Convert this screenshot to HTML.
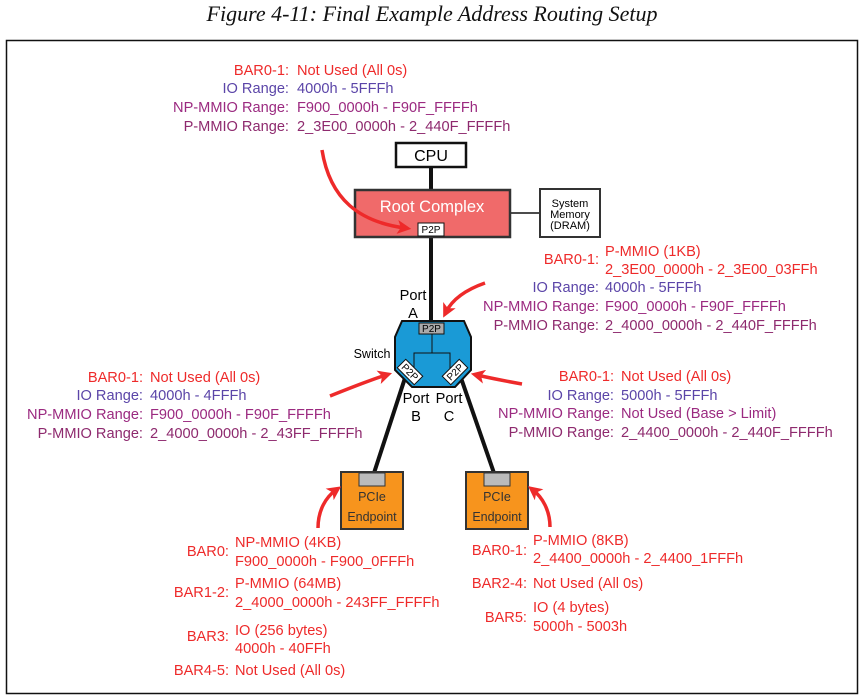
<!DOCTYPE html>
<html><head><meta charset="utf-8"><style>
html,body{margin:0;padding:0;background:#fff;}
svg{display:block;}
text{font-family:"Liberation Sans",sans-serif;font-size:14.6px;}
.r{fill:#ee2a2a}.io{fill:#5b45a8}.np{fill:#9b2a80}.pm{fill:#8e2a6e}
.e{text-anchor:end}
.t{font-family:"Liberation Serif",serif;font-style:italic;font-size:22px;fill:#111}
</style></head><body>
<svg width="864" height="698" viewBox="0 0 864 698">
<defs><marker id="ah" markerWidth="4" markerHeight="4" refX="2.2" refY="2" orient="auto" markerUnits="strokeWidth"><path d="M0,0 L4,2 L0,4 L1,2 Z" fill="#ee2a2a"/></marker></defs>
<text x="432" y="21" text-anchor="middle" class="t">Figure 4-11: Final Example Address Routing Setup</text>
<rect x="6.5" y="40.5" width="851" height="653" fill="none" stroke="#111" stroke-width="1.5"/>

<line x1="431" y1="167" x2="431" y2="190" stroke="#111" stroke-width="4"/>
<line x1="510" y1="213" x2="540" y2="213" stroke="#111" stroke-width="1.5"/>
<line x1="431" y1="237" x2="431" y2="323" stroke="#111" stroke-width="4"/>
<line x1="405" y1="378" x2="374" y2="473" stroke="#111" stroke-width="4"/>
<line x1="461" y1="378" x2="494" y2="473" stroke="#111" stroke-width="4"/>

<rect x="396" y="143" width="70" height="24" fill="#fff" stroke="#111" stroke-width="2.5"/>
<text x="431" y="161" text-anchor="middle" style="font-size:16px">CPU</text>
<rect x="355" y="190" width="155" height="47" fill="#f06a6a" stroke="#333" stroke-width="2.5"/>
<text x="432" y="212" text-anchor="middle" style="font-size:16.5px;fill:#fff">Root Complex</text>
<rect x="418" y="223" width="26" height="13" fill="#fff" stroke="#111" stroke-width="1"/>
<text x="431" y="233" text-anchor="middle" style="font-size:10px">P2P</text>
<rect x="540" y="189" width="60" height="48" fill="#fff" stroke="#333" stroke-width="2"/>
<text x="570" y="207" text-anchor="middle" style="font-size:11px">System</text>
<text x="570" y="218" text-anchor="middle" style="font-size:11px">Memory</text>
<text x="570" y="229" text-anchor="middle" style="font-size:11px">(DRAM)</text>

<polygon points="402,321 464,321 471,337 471,370 455,387 412,387 395,370 395,337" fill="#1a9ad6" stroke="#111" stroke-width="2"/>
<rect x="419" y="323" width="25" height="11" fill="#aaa" stroke="#111" stroke-width="1"/>
<text x="431.5" y="332" text-anchor="middle" style="font-size:10px">P2P</text>
<line x1="432" y1="334" x2="432" y2="353" stroke="#111" stroke-width="1"/>
<polyline points="414,376 414,353 450,353 450,376" fill="none" stroke="#111" stroke-width="1"/>
<g transform="translate(410,372) rotate(45)"><rect x="-12" y="-6" width="24" height="12" fill="#fff" stroke="#111" stroke-width="1"/><text x="0" y="3.5" text-anchor="middle" style="font-size:10px">P2P</text></g>
<g transform="translate(455,372) rotate(-45)"><rect x="-12" y="-6" width="24" height="12" fill="#fff" stroke="#111" stroke-width="1"/><text x="0" y="3.5" text-anchor="middle" style="font-size:10px">P2P</text></g>
<text x="372" y="358" text-anchor="middle" style="font-size:12.5px">Switch</text>
<text x="413" y="300" text-anchor="middle">Port</text>
<text x="413" y="318" text-anchor="middle">A</text>
<text x="416" y="403" text-anchor="middle">Port</text>
<text x="416" y="421" text-anchor="middle">B</text>
<text x="449" y="403" text-anchor="middle">Port</text>
<text x="449" y="421" text-anchor="middle">C</text>

<rect x="341" y="472" width="62" height="57" fill="#f7941d" stroke="#333" stroke-width="2"/>
<rect x="359" y="473" width="26" height="13" fill="#bbb" stroke="#333" stroke-width="1"/>
<text x="372" y="501" text-anchor="middle" style="font-size:12.5px;fill:#333">PCIe</text>
<text x="372" y="521" text-anchor="middle" style="font-size:12.5px;fill:#333">Endpoint</text>
<rect x="466" y="472" width="62" height="57" fill="#f7941d" stroke="#333" stroke-width="2"/>
<rect x="484" y="473" width="26" height="13" fill="#bbb" stroke="#333" stroke-width="1"/>
<text x="497" y="501" text-anchor="middle" style="font-size:12.5px;fill:#333">PCIe</text>
<text x="497" y="521" text-anchor="middle" style="font-size:12.5px;fill:#333">Endpoint</text>

<g fill="none" stroke="#ee2a2a" stroke-width="3.5" marker-end="url(#ah)">
<path d="M322,150 C330,200 360,222 405,228"/>
<path d="M485,283 C465,290 452,300 446,312"/>
<path d="M330,396 C350,388 370,380 386,375"/>
<path d="M522,384 C505,381 490,378 477,375"/>
<path d="M318,528 C318,510 326,497 336,490"/>
<path d="M550,527 C550,510 542,497 533,490"/>
</g>

<text x="289" y="75" class="r e">BAR0-1:</text><text x="297" y="75" class="r">Not Used (All 0s)</text>
<text x="289" y="93" class="io e">IO Range:</text><text x="297" y="93" class="io">4000h - 5FFFh</text>
<text x="289" y="112" class="np e">NP-MMIO Range:</text><text x="297" y="112" class="np">F900_0000h - F90F_FFFFh</text>
<text x="289" y="131" class="pm e">P-MMIO Range:</text><text x="297" y="131" class="pm">2_3E00_0000h - 2_440F_FFFFh</text>

<text x="599" y="264" class="r e">BAR0-1:</text>
<text x="605" y="256" class="r">P-MMIO (1KB)</text><text x="605" y="274" class="r">2_3E00_0000h - 2_3E00_03FFh</text>
<text x="599" y="292" class="io e">IO Range:</text><text x="605" y="292" class="io">4000h - 5FFFh</text>
<text x="599" y="311" class="np e">NP-MMIO Range:</text><text x="605" y="311" class="np">F900_0000h - F90F_FFFFh</text>
<text x="599" y="330" class="pm e">P-MMIO Range:</text><text x="605" y="330" class="pm">2_4000_0000h - 2_440F_FFFFh</text>

<text x="143" y="382" class="r e">BAR0-1:</text><text x="150" y="382" class="r">Not Used (All 0s)</text>
<text x="143" y="400" class="io e">IO Range:</text><text x="150" y="400" class="io">4000h - 4FFFh</text>
<text x="143" y="419" class="np e">NP-MMIO Range:</text><text x="150" y="419" class="np">F900_0000h - F90F_FFFFh</text>
<text x="143" y="438" class="pm e">P-MMIO Range:</text><text x="150" y="438" class="pm">2_4000_0000h - 2_43FF_FFFFh</text>

<text x="614" y="381" class="r e">BAR0-1:</text><text x="621" y="381" class="r">Not Used (All 0s)</text>
<text x="614" y="400" class="io e">IO Range:</text><text x="621" y="400" class="io">5000h - 5FFFh</text>
<text x="614" y="418" class="np e">NP-MMIO Range:</text><text x="621" y="418" class="np">Not Used (Base &gt; Limit)</text>
<text x="614" y="437" class="pm e">P-MMIO Range:</text><text x="621" y="437" class="pm">2_4400_0000h - 2_440F_FFFFh</text>

<text x="229" y="556" class="r e">BAR0:</text>
<text x="235" y="547" class="r">NP-MMIO (4KB)</text><text x="235" y="566" class="r">F900_0000h - F900_0FFFh</text>
<text x="229" y="597" class="r e">BAR1-2:</text>
<text x="235" y="588" class="r">P-MMIO (64MB)</text><text x="235" y="607" class="r">2_4000_0000h - 243FF_FFFFh</text>
<text x="229" y="641" class="r e">BAR3:</text>
<text x="235" y="635" class="r">IO (256 bytes)</text><text x="235" y="653" class="r">4000h - 40FFh</text>
<text x="229" y="675" class="r e">BAR4-5:</text><text x="235" y="675" class="r">Not Used (All 0s)</text>

<text x="527" y="555" class="r e">BAR0-1:</text>
<text x="533" y="545" class="r">P-MMIO (8KB)</text><text x="533" y="563" class="r">2_4400_0000h - 2_4400_1FFFh</text>
<text x="527" y="588" class="r e">BAR2-4:</text><text x="533" y="588" class="r">Not Used (All 0s)</text>
<text x="527" y="622" class="r e">BAR5:</text>
<text x="533" y="612" class="r">IO (4 bytes)</text><text x="533" y="631" class="r">5000h - 5003h</text>
</svg>
</body></html>
